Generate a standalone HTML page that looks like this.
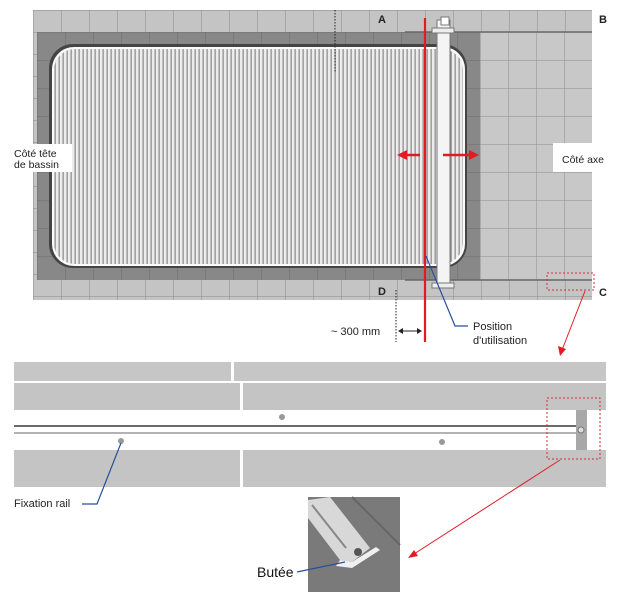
<!DOCTYPE html>
<html><head><meta charset="utf-8"><style>
body{margin:0;background:#fff;}
svg{display:block;font-family:"Liberation Sans",sans-serif;}
</style></head><body>
<svg width="620" height="602" viewBox="0 0 620 602" xmlns="http://www.w3.org/2000/svg">
<defs>
<pattern id="tile" x="33" y="10" width="28" height="22" patternUnits="userSpaceOnUse">
<rect width="28" height="22" fill="#c4c4c4"/><path d="M0 0H28M0 0V22" stroke="#8a8a8a" stroke-width="1"/></pattern>
<pattern id="tileR" x="480" y="32" width="28" height="28" patternUnits="userSpaceOnUse">
<rect width="28" height="28" fill="#c8c8c8"/><path d="M0 0H28M0 0V28" stroke="#8e8e8e" stroke-width="1"/></pattern>
<pattern id="dtile" x="37" y="32" width="28" height="28" patternUnits="userSpaceOnUse">
<rect width="28" height="28" fill="#888"/><path d="M0 0H28M0 0V28" stroke="#6c6c6c" stroke-width="1"/></pattern>
<pattern id="slat" x="0" y="0" width="4" height="10" patternUnits="userSpaceOnUse">
<rect width="4" height="10" fill="#ececec"/><rect x="2.5" width="1.3" height="10" fill="#8f8f8f"/></pattern>
</defs>
<rect x="33" y="10" width="559" height="290" fill="url(#tile)"/>
<rect x="480" y="32" width="112" height="248" fill="url(#tileR)"/>
<rect x="37" y="32" width="443" height="248" fill="url(#dtile)"/>
<rect x="49" y="44" width="418" height="224" rx="24" fill="#444"/>
<rect x="52" y="47" width="413" height="219" rx="22" fill="#fafafa"/>
<rect x="54" y="49" width="409" height="215" rx="21" fill="url(#slat)"/>
<path d="M335 10V73" stroke="#222" stroke-dasharray="1.5 1.5"/>
<path d="M405 280H592" stroke="#666" stroke-width="1.5"/>
<path d="M405 32H592" stroke="#666" stroke-width="1.5"/>
<rect x="437" y="20" width="13" height="267" fill="#f4f4f4" stroke="#777"/>
<rect x="441" y="17" width="8" height="8" fill="#fff" stroke="#777"/>
<rect x="432" y="283" width="22" height="5" fill="#eee" stroke="#777"/>
<rect x="432" y="28" width="22" height="5" fill="#eee" stroke="#777"/>
<rect x="12" y="144" width="60" height="28" fill="#fff"/>
<text x="14" y="157" font-size="10.5" fill="#222">Côté tête</text>
<text x="14" y="168" font-size="10.5" fill="#222">de bassin</text>
<rect x="553" y="143" width="67" height="29" fill="#fff"/>
<text x="562" y="163" font-size="10.5" fill="#222">Côté axe</text>
<text x="378" y="23" font-size="11" font-weight="bold" fill="#222">A</text>
<text x="599" y="23" font-size="11" font-weight="bold" fill="#222">B</text>
<text x="378" y="295" font-size="11" font-weight="bold" fill="#222">D</text>
<text x="599" y="296" font-size="11" font-weight="bold" fill="#222">C</text>
<path d="M425 18V342" stroke="#e21b23" stroke-width="2.2"/>
<path d="M420 155H405" stroke="#e21b23" stroke-width="2.5"/>
<path d="M397 155L407 150V160Z" fill="#e21b23"/>
<path d="M443 155H470" stroke="#e21b23" stroke-width="2.5"/>
<path d="M479 155L469 150V160Z" fill="#e21b23"/>
<path d="M396 290V342" stroke="#222" stroke-dasharray="1.5 1.5"/>
<path d="M401 331H419" stroke="#222" stroke-width="1"/>
<path d="M398 331L403 328V334Z M422 331L417 328V334Z" fill="#222"/>
<text x="331" y="335" font-size="11" fill="#222">~ 300 mm</text>
<path d="M426 256L455 326H468" stroke="#2a4fa0" stroke-width="1.2" fill="none"/>
<text x="473" y="330" font-size="11" fill="#222">Position</text>
<text x="473" y="344" font-size="11" fill="#222">d'utilisation</text>
<rect x="547" y="273" width="47" height="17" fill="none" stroke="#d0303c" stroke-dasharray="2 2"/>
<path d="M585 291L562 350" stroke="#e21b23" stroke-width="1"/>
<path d="M560 356L558 346L566 349Z" fill="#e21b23"/>
<rect x="14" y="362" width="217" height="19" fill="#c6c6c6"/>
<rect x="234" y="362" width="372" height="19" fill="#c6c6c6"/>
<rect x="14" y="383" width="226" height="27" fill="#c4c4c4"/>
<rect x="243" y="383" width="363" height="27" fill="#c4c4c4"/>
<rect x="14" y="450" width="226" height="37" fill="#c4c4c4"/>
<rect x="243" y="450" width="363" height="37" fill="#c4c4c4"/>
<path d="M14 426H577" stroke="#6a6a6a" stroke-width="2"/>
<path d="M14 433H577" stroke="#9a9a9a" stroke-width="1.5"/>
<rect x="576" y="410" width="11" height="40" fill="#a8a8a8"/>
<circle cx="581" cy="430" r="3" fill="#ddd" stroke="#777"/>
<circle cx="282" cy="417" r="3" fill="#999"/>
<circle cx="121" cy="441" r="3" fill="#999"/>
<circle cx="442" cy="442" r="3" fill="#999"/>
<rect x="547" y="398" width="53" height="61" fill="none" stroke="#d0303c" stroke-dasharray="2 2"/>
<path d="M121 443L97 504H82" stroke="#2a4fa0" stroke-width="1.2" fill="none"/>
<text x="14" y="507" font-size="11" fill="#222">Fixation rail</text>
<path d="M560 460L414 554" stroke="#e21b23" stroke-width="1"/>
<path d="M408 558L414 550L418 556Z" fill="#e21b23"/>
<rect x="308" y="497" width="92" height="95" fill="#7a7a7a"/>
<path d="M352 497L400 545" stroke="#666" stroke-width="2"/>
<path d="M308 500L308 518L340 560L352 562L370 548L330 497Z" fill="#d8d8d8"/>
<path d="M312 505L346 548" stroke="#888" stroke-width="2"/>
<path d="M340 560L352 562L376 547L380 550L352 568L336 566Z" fill="#f0f0f0"/>
<circle cx="358" cy="552" r="4" fill="#555"/>
<path d="M297 572L345 562" stroke="#2a4fa0" stroke-width="1.2"/>
<text x="257" y="577" font-size="14" fill="#111">Butée</text>
</svg>
</body></html>
